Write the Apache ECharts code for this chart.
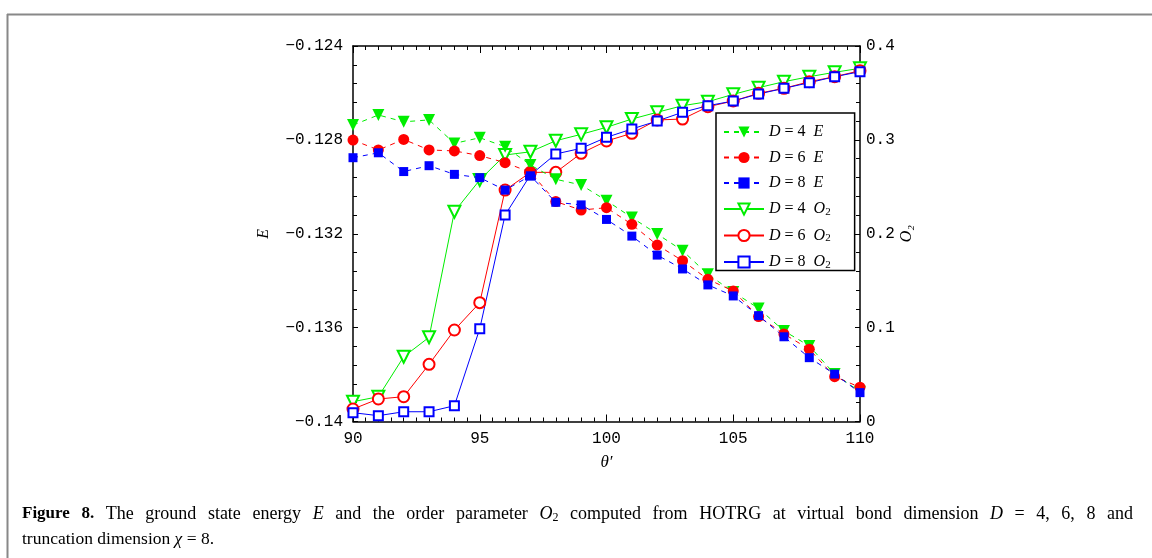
<!DOCTYPE html>
<html>
<head>
<meta charset="utf-8">
<script src="https://cdn.jsdelivr.net/npm/echarts@6/dist/echarts.min.js"></script>
<style>html,body{margin:0;padding:0;background:#fff;}#c{width:1152px;height:558px;}</style>
</head>
<body>
<div id="c"></div>
<script>
var theta = [90,91,92,93,94,95,96,97,98,99,100,101,102,103,104,105,106,107,108,109,110];
var E_D4 = [-0.12737,-0.12694,-0.12723,-0.12715,-0.12815,-0.12791,-0.12829,-0.12907,-0.12968,-0.12992,-0.13059,-0.13131,-0.13201,-0.13272,-0.13373,-0.13448,-0.13518,-0.13614,-0.13678,-0.13798,-0.13873];
var E_D6 = [-0.12801,-0.12843,-0.12798,-0.12843,-0.12847,-0.12867,-0.12897,-0.12938,-0.13063,-0.13099,-0.13089,-0.13160,-0.13248,-0.13315,-0.13394,-0.13444,-0.13553,-0.13627,-0.13692,-0.13809,-0.13854];
var E_D8 = [-0.12876,-0.12855,-0.12935,-0.12910,-0.12947,-0.12961,-0.13014,-0.12953,-0.13066,-0.13077,-0.13139,-0.13210,-0.13291,-0.13350,-0.13418,-0.13465,-0.13549,-0.13639,-0.13728,-0.13798,-0.13877];
var O2_D4 = [0.0211,0.0264,0.0690,0.0897,0.2235,0.2573,0.2839,0.2873,0.2991,0.3059,0.3134,0.3222,0.3294,0.3364,0.3407,0.3485,0.3556,0.3620,0.3673,0.3720,0.3762];
var O2_D6 = [0.0133,0.0240,0.0264,0.0609,0.0975,0.1266,0.2465,0.2654,0.2654,0.2857,0.2988,0.3070,0.3212,0.3222,0.3353,0.3414,0.3496,0.3549,0.3620,0.3673,0.3737];
var O2_D8 = [0.0094,0.0062,0.0104,0.0104,0.0168,0.0989,0.2200,0.2626,0.2850,0.2910,0.3027,0.3116,0.3201,0.3294,0.3364,0.3414,0.3489,0.3549,0.3609,0.3673,0.3726];
var xTicks = [90,95,100,105,110];
var eTicks = [-0.14,-0.136,-0.132,-0.128,-0.124];
var oTicks = [0,0.1,0.2,0.3,0.4];
var seriesNames = ['D = 4 E','D = 6 E','D = 8 E','D = 4 O2','D = 6 O2','D = 8 O2'];
var legendRich = {
  'D = 4 E':'{i|D} = 4  {i|E}', 'D = 6 E':'{i|D} = 6  {i|E}', 'D = 8 E':'{i|D} = 8  {i|E}',
  'D = 4 O2':'{i|D} = 4  {i|O}{s|2}', 'D = 6 O2':'{i|D} = 6  {i|O}{s|2}', 'D = 8 O2':'{i|D} = 8  {i|O}{s|2}'
};
// caption tokens: [text, style]; style: b = bold, i = italic, n = normal, s = subscript (attached to previous)
var captionLine1 = [['Figure','b'],['8.','b'],['The','n'],['ground','n'],['state','n'],['energy','n'],['E','i'],['and','n'],['the','n'],['order','n'],['parameter','n'],['O','i'],['2','s'],['computed','n'],['from','n'],['HOTRG','n'],['at','n'],['virtual','n'],['bond','n'],['dimension','n'],['D','i'],['=','n'],['4,','n'],['6,','n'],['8','n'],['and','n']];
var captionLine2 = 'truncation dimension {i|\u03c7} = 8.';

function pairs(ys){ return theta.map(function(t,i){ return [t, ys[i]]; }); }
function fmtTick(v){ return String(Number(v.toPrecision(6))).replace('-', '\u2212'); }

var GREEN = '#00ee00', RED = '#ff0000', BLUE = '#0000ff';
var MONO = 'Liberation Mono';
var SERIF = 'Liberation Serif';
var CAP_FS = 18, BOLD_FS = 17, SUB_FS = 12;

// justify caption line 1 between x=22 and x=1133
var mctx = document.createElement('canvas').getContext('2d');
function fontFor(st){
  var f = '';
  if (st === 'b') f = 'bold ';
  if (st === 'i') f = 'italic ';
  var fs = st === 's' ? SUB_FS : (st === 'b' ? BOLD_FS : CAP_FS);
  return f + fs + 'px "' + SERIF + '"';
}
var natural = 0, gaps = 0;
captionLine1.forEach(function(tk, k){
  mctx.font = fontFor(tk[1]);
  natural += mctx.measureText(tk[0]).width;
  if (k > 0 && tk[1] !== 's') gaps++;
});
var gapW = Math.max(3, (1133 - 22 - natural) / gaps);
var line1 = captionLine1.map(function(tk, k){
  var pre = (k > 0 && tk[1] !== 's') ? '{g| }' : '';
  return pre + '{' + tk[1] + '|' + tk[0] + '}';
}).join('');

function eSeries(name, data, color, symbol, size, rot){
  return {
    name: name, type: 'line', xAxisIndex: 0, yAxisIndex: 0, data: pairs(data),
    symbol: symbol, symbolSize: size, symbolRotate: rot || 0,
    lineStyle: {color: color, width: 1, type: [5,5]},
    itemStyle: {color: color},
    animation: false, z: 3
  };
}
function oSeries(name, data, color, symbol, size, rot){
  return {
    name: name, type: 'line', xAxisIndex: 0, yAxisIndex: 1, data: pairs(data),
    symbol: symbol, symbolSize: size, symbolRotate: rot || 0,
    lineStyle: {color: color, width: 1, type: 'solid'},
    itemStyle: {color: color, borderColor: color, borderWidth: 1},
    animation: false, z: 2
  };
}

var chart = echarts.init(document.getElementById('c'), null, {renderer: 'canvas'});
var tickLabel = {color: '#000', fontFamily: MONO, fontSize: 16};
var capRich = {
  b: {fontFamily: SERIF, fontWeight: 'bold', fontSize: BOLD_FS, fill: '#000', lineHeight: 20},
  i: {fontFamily: SERIF, fontStyle: 'italic', fontSize: CAP_FS, fill: '#000', lineHeight: 20},
  n: {fontFamily: SERIF, fontSize: CAP_FS, fill: '#000', lineHeight: 20},
  s: {fontFamily: SERIF, fontSize: SUB_FS, fill: '#000', padding: [8,0,0,0], lineHeight: 20},
  g: {fontFamily: SERIF, fontSize: CAP_FS, width: gapW, lineHeight: 20}
};
var option = {
  backgroundColor: '#fff',
  animation: false,
  grid: {left: 353, right: 292, top: 46, bottom: 136.5, containLabel: false},
  xAxis: [{
    type: 'value', position: 'bottom', min: xTicks[0], max: xTicks[xTicks.length-1], interval: 5,
    name: '\u03b8\u2032', nameLocation: 'middle', nameGap: 33,
    nameTextStyle: {fontFamily: SERIF, fontStyle: 'italic', fontSize: 17, color: '#000'},
    axisLine: {show: true, lineStyle: {color: '#000', width: 1.5}},
    axisTick: {show: true, inside: true, length: 7, lineStyle: {color: '#000', width: 1}},
    minorTick: {show: true, splitNumber: 10, length: 4, lineStyle: {color: '#000', width: 1}},
    splitLine: {show: false}, minorSplitLine: {show: false},
    axisLabel: Object.assign({margin: 9, formatter: fmtTick}, tickLabel)
  }, {
    type: 'value', position: 'top', min: xTicks[0], max: xTicks[xTicks.length-1], interval: 5,
    axisLine: {show: true, lineStyle: {color: '#000', width: 1.5}},
    axisTick: {show: true, inside: true, length: 7, lineStyle: {color: '#000', width: 1}},
    minorTick: {show: true, splitNumber: 10, length: 4, lineStyle: {color: '#000', width: 1}},
    splitLine: {show: false}, axisLabel: {show: false}
  }],
  yAxis: [{
    type: 'value', position: 'left', min: eTicks[0], max: eTicks[eTicks.length-1], interval: 0.004,
    name: 'E', nameLocation: 'middle', nameGap: 81, nameRotate: 90,
    nameTextStyle: {fontFamily: SERIF, fontStyle: 'italic', fontSize: 16, color: '#000'},
    axisLine: {show: true, lineStyle: {color: '#000', width: 1.5}},
    axisTick: {show: true, inside: true, length: 5, lineStyle: {color: '#000', width: 1}},
    minorTick: {show: true, splitNumber: 5, length: 4, lineStyle: {color: '#000', width: 1}},
    splitLine: {show: false},
    axisLabel: Object.assign({margin: 10, formatter: fmtTick}, tickLabel)
  }, {
    type: 'value', position: 'right', min: oTicks[0], max: oTicks[oTicks.length-1], interval: 0.1,
    name: 'O\u2082', nameLocation: 'middle', nameGap: 37, nameRotate: 90,
    nameTextStyle: {fontFamily: SERIF, fontStyle: 'italic', fontSize: 16, color: '#000'},
    axisLine: {show: true, lineStyle: {color: '#000', width: 1.5}},
    axisTick: {show: true, inside: true, length: 5, lineStyle: {color: '#000', width: 1}},
    minorTick: {show: true, splitNumber: 5, length: 4, lineStyle: {color: '#000', width: 1}},
    splitLine: {show: false},
    axisLabel: Object.assign({margin: 6, formatter: fmtTick}, tickLabel)
  }],
  legend: {
    show: true, orient: 'vertical', left: 716, top: 113,
    data: seriesNames,
    backgroundColor: '#fff', borderColor: '#000', borderWidth: 1.5,
    padding: [11, 24, 0, 7], itemGap: 9.5, itemWidth: 40, itemHeight: 14,
    formatter: function(n){ return legendRich[n]; },
    textStyle: {fontFamily: SERIF, fontSize: 16, color: '#000', lineHeight: 14,
      rich: {i: {fontFamily: SERIF, fontStyle: 'italic', fontSize: 16, color: '#000', lineHeight: 14},
             s: {fontFamily: SERIF, fontSize: 11, color: '#000', padding: [6, 0, 0, 0], lineHeight: 14}}}
  },
  graphic: [
    {type: 'line', shape: {x1: 7, y1: 14.5, x2: 1152, y2: 14.5}, style: {stroke: '#888', lineWidth: 2}, silent: true},
    {type: 'line', shape: {x1: 7.5, y1: 14, x2: 7.5, y2: 558}, style: {stroke: '#888', lineWidth: 2}, silent: true},
    {type: 'text', left: 22, top: 504, style: {
      text: line1, fontFamily: SERIF, fontSize: CAP_FS, fill: '#000', rich: capRich
    }},
    {type: 'text', left: 22, top: 529, style: {
      text: captionLine2, fontFamily: SERIF, fontSize: 17.5, fill: '#000', lineHeight: 20,
      rich: {i: {fontFamily: SERIF, fontStyle: 'italic', fontSize: 17.5, fill: '#000', lineHeight: 20}}
    }}
  ],
  series: [
    eSeries(seriesNames[0], E_D4, GREEN, 'triangle', 12, 180),
    eSeries(seriesNames[1], E_D6, RED, 'circle', 11),
    eSeries(seriesNames[2], E_D8, BLUE, 'rect', 9),
    oSeries(seriesNames[3], O2_D4, GREEN, 'emptyTriangle', 12, 180),
    oSeries(seriesNames[4], O2_D6, RED, 'emptyCircle', 11),
    oSeries(seriesNames[5], O2_D8, BLUE, 'emptyRect', 9)
  ]
};
chart.setOption(option);
</script>
</body>
</html>
